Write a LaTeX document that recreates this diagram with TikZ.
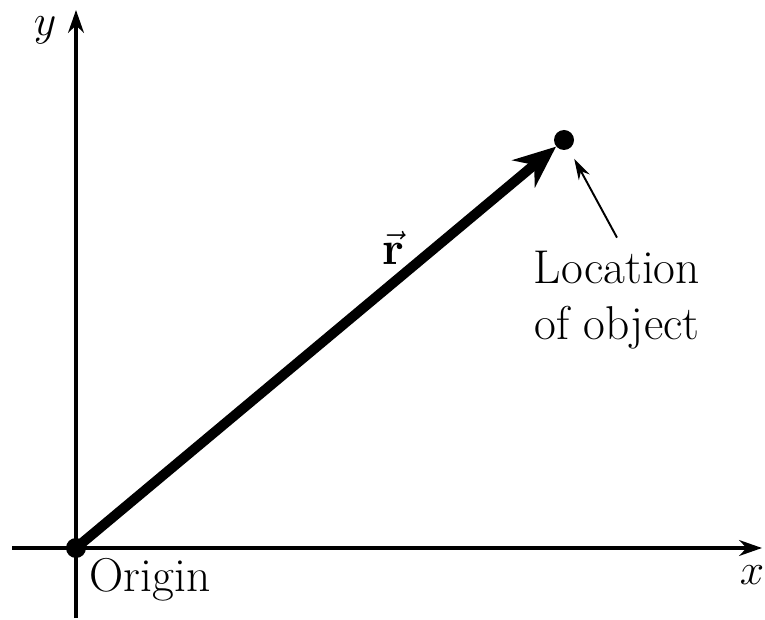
\documentclass[tikz,border=0pt]{standalone}
\usetikzlibrary{arrows.meta}

\tikzset{
  axis/.style={line width=1.9pt,-{Stealth[length=13pt,width=9pt]}},
  dot/.style={circle,fill,inner sep=0pt,minimum size=0.4cm},
  lbl/.style={font=\fontsize{27}{32}\selectfont}
}

\begin{document}
\begin{tikzpicture}
  \useasboundingbox (-1.52,-1.42) rectangle (13.78,10.96);
  \coordinate (XL) at (-1.28,0);
  \coordinate (XR) at (13.72,0);
  \coordinate (YB) at (0,-1.4);
  \coordinate (YT) at (0,10.76);
  \draw[axis] (XL) -- (XR);
  \draw[axis] (YB) -- (YT);
  \node[dot] (O) at (0,0) {};
  \node[dot] (P) at (9.76,8.16) {};
  \draw[line width=5.7pt,-{Stealth[length=24pt,width=20pt]}] (O.center) -- (P);
  \node[lbl] (R) at (6.34,6.0) {$\vec{\textbf{r}}$};
  \node[lbl,align=center] (L) at (10.82,4.96) {Location\\of object};
  \draw[line width=1.1pt,-{Stealth[length=12pt,width=7pt]},shorten >=0.22cm] ([yshift=4pt]L.north) -- (P);
  \node[lbl] (X) at (13.52,-0.54) {$x$};
  \node[lbl] (Y) at (-0.62,10.36) {$y$};
  \node[lbl] (T) at (1.48,-0.64) {Origin};
\end{tikzpicture}
\end{document}
